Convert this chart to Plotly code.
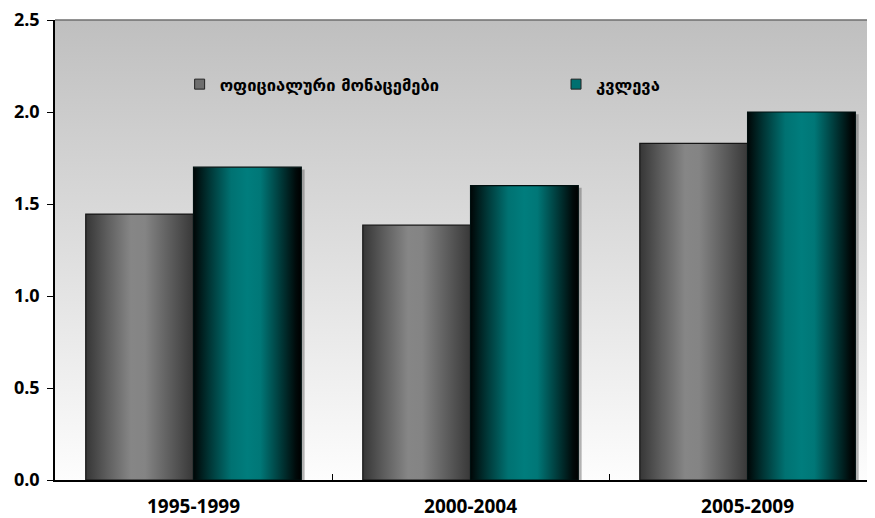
import plotly.graph_objects as go

categories = ["1995-1999", "2000-2004", "2005-2009"]
series_names = ["ოფიციალური მონაცემები", "კვლევა"]
official = [1.445, 1.385, 1.83]
survey = [1.70, 1.60, 2.0]
y_ticks = [0.0, 0.5, 1.0, 1.5, 2.0, 2.5]

gray_scale = [[0, "#363636"], [0.2, "#5e5e5e"], [0.42, "#868686"], [0.55, "#848484"],
              [0.8, "#5a5a5a"], [1, "#383838"]]
teal_scale = [[0, "#000606"], [0.15, "#003636"], [0.35, "#007272"], [0.5, "#007d7d"],
              [0.62, "#007777"], [0.8, "#003c3c"], [0.95, "#000a0a"], [1, "#000000"]]

BW = 0.389
fig = go.Figure()

# plot background gradient
fig.add_trace(go.Scatter(
    x=[-0.5, 2.6, 2.6, -0.5, -0.5], y=[0, 0, 2.5, 2.5, 0],
    fill="toself", mode="lines", line=dict(width=0),
    fillgradient=dict(type="vertical", colorscale=[[0, "#fdfdfd"], [1, "#bfbfbf"]]),
    hoverinfo="skip", showlegend=False))

def add_bar(cx, val, offset, scale, edge):
    x0 = cx + offset
    x1 = x0 + BW
    # soft drop shadow on the right
    fig.add_trace(go.Scatter(
        x=[x1, x1 + 0.012, x1 + 0.012, x1, x1], y=[0, 0, val - 0.012, val - 0.012, 0],
        fill="toself", mode="lines", line=dict(width=0), fillcolor="rgba(90,90,90,0.45)",
        hoverinfo="skip", showlegend=False))
    fig.add_trace(go.Scatter(
        x=[x0, x1, x1, x0, x0], y=[0, 0, val, val, 0],
        fill="toself", mode="lines", line=dict(width=1.2, color=edge),
        fillgradient=dict(type="horizontal", colorscale=scale, start=x0, stop=x1),
        hoverinfo="skip", showlegend=False))

for i, (a, b) in enumerate(zip(official, survey)):
    add_bar(i, a, -BW, gray_scale, "#151515")
    add_bar(i, b, 0, teal_scale, "#001010")

# legend entries (two separate legends to place them like the original)
for name, col, lg in zip(series_names, ["#6e6e6e", "#007070"], ["legend", "legend2"]):
    fig.add_trace(go.Scatter(
        x=[None], y=[None], mode="markers", name=name, legend=lg,
        marker=dict(symbol="square", size=10, color=col, line=dict(color="#222222", width=1))))

legend_font = dict(family="DejaVu Sans", size=16.5, color="black", weight="bold")
# the page body has an 8px margin, so the figure is sized to end at the window edge
fig.update_layout(
    width=867, height=510,
    margin=dict(l=47, r=0, t=12, b=38, autoexpand=False),
    paper_bgcolor="white", plot_bgcolor="white",
    showlegend=True,
    legend=dict(orientation="h", x=0.152, y=0.86, xanchor="left", yanchor="middle",
                bgcolor="rgba(0,0,0,0)", itemwidth=30, font=legend_font),
    legend2=dict(orientation="h", x=0.611, y=0.86, xanchor="left", yanchor="middle",
                 bgcolor="rgba(0,0,0,0)", itemwidth=30, font=legend_font),
)
fig.update_xaxes(
    range=[-0.5, 2.46], tickmode="array", tickvals=[0, 1, 2], ticktext=categories,
    ticks="", showgrid=False, zeroline=False, automargin=False,
    showline=True, linecolor="black", linewidth=1.5,
    tickfont=dict(family="Open Sans", size=19, color="black", weight="bold"),
    ticklabelstandoff=8, ticklabeloverflow="allow",
    minor=dict(tickmode="array", tickvals=[0.5, 1.5], ticks="inside", ticklen=6,
               tickcolor="black", tickwidth=1, showgrid=False),
)
fig.update_yaxes(
    range=[0, 2.5], tickmode="array", tickvals=y_ticks,
    ticktext=[f"{v:.1f}" for v in y_ticks], automargin=False,
    ticks="outside", ticklen=6, tickcolor="black", showgrid=False, zeroline=False,
    showline=True, linecolor="black", linewidth=1.5,
    tickfont=dict(family="Open Sans", size=18, color="black", weight="bold"),
    ticklabelstandoff=4, ticklabeloverflow="allow",
)
# top border of plot area
fig.add_shape(type="line", xref="paper", yref="paper", x0=0, x1=1, y0=1, y1=1,
              line=dict(color="#6e6e6e", width=1.5))

fig.write_html("out.html")
